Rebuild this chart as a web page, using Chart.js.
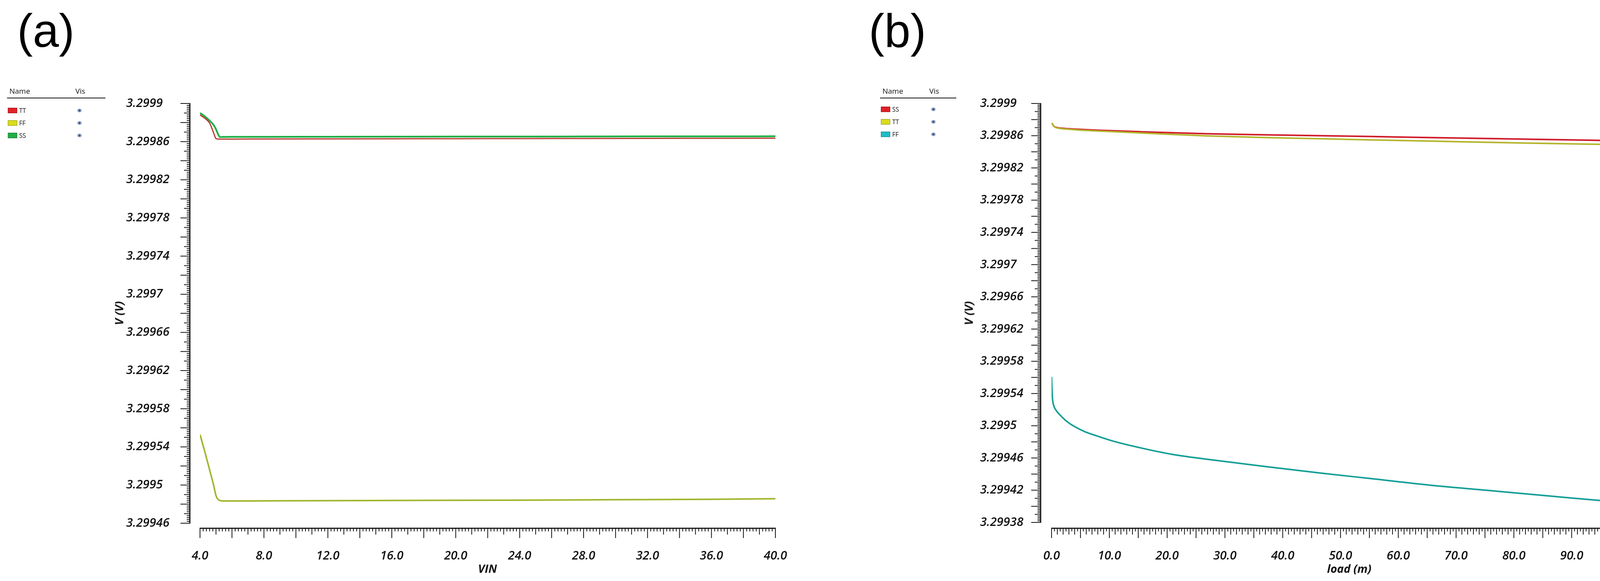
<!DOCTYPE html>
<html lang="en">
<head>
<meta charset="UTF-8">
<title>VIN and load sweeps</title>
<script src="https://cdn.jsdelivr.net/npm/chart.js"></script>
<style>
  * { margin: 0; padding: 0; box-sizing: border-box; }
  body { width: 4257px; height: 1488px; background: #fff; overflow: hidden; position: relative; font-family: "Open Sans", sans-serif; color: #111; }
  .panel { position: absolute; top: 0; height: 1488px; }
  .tag { position: absolute; top: 18px; font-family: "Liberation Sans", Arial, sans-serif; font-size: 120px; line-height: 1; color: #000; }
  .axt { position: absolute; font-size: 29px; font-weight: 700; font-style: italic; white-space: nowrap; transform: translate(-50%, -50%); line-height: 1; }
  .axt.rot { transform: translate(-50%, -50%) rotate(-90deg); }
  .lg { position: absolute; font-size: 19px; line-height: 1; }
  .lg-line { position: absolute; height: 2px; background: #111; }
  .sw { position: absolute; width: 24px; height: 14px; border: 1px solid rgba(0,0,0,0.35); }
  .nm { position: absolute; font-size: 16px; line-height: 1; }
  .eye { position: absolute; width: 13px; height: 10px; border-radius: 50%; background: radial-gradient(circle at 50% 50%, #3d4f7a 0 2px, #8f9fc4 3px, #c9d2e6 6px); }
</style>
</head>
<body>

<div class="tag" style="left:44px">(a)</div>
<div class="tag" style="left:2224px">(b)</div>

<div class="panel" style="left:0;width:2128px"><canvas id="chartA"></canvas></div>
<div class="panel" style="left:2128px;width:2129px"><canvas id="chartB"></canvas></div>

<div class="axt rot" style="left:304px;top:802px">V (V)</div>
<div class="axt" style="left:1248px;top:1455px">VIN</div>
<div class="axt rot" style="left:2479px;top:802px">V (V)</div>
<div class="axt" style="left:3454px;top:1455px">load (m)</div>

<div id="legendA"></div>
<div id="legendB"></div>

<script>
// ---- data ----
const vinTicks = ['4.0', '8.0', '12.0', '16.0', '20.0', '24.0', '28.0', '32.0', '36.0', '40.0'];
const voltTicksA = ['3.29946', '3.2995', '3.29954', '3.29958', '3.29962', '3.29966', '3.2997',
    '3.29974', '3.29978', '3.29982', '3.29986', '3.2999'];

const vinSweep = [4.0, 4.3, 4.6, 4.85, 5.0, 5.1, 5.25, 5.4, 6, 8, 12, 16, 20, 24, 28, 32, 36, 40];
const vinTT = [3.299888, 3.2998845, 3.2998795, 3.2998693, 3.2998632, 3.2998628, 3.2998627, 3.2998627,
    3.2998627, 3.2998628, 3.2998629, 3.299863, 3.2998631, 3.2998632, 3.2998633, 3.2998634, 3.2998635, 3.2998636];
const vinFF = [3.299553, 3.299535, 3.299516, 3.2995, 3.299489, 3.2994855, 3.2994838, 3.2994833,
    3.2994833, 3.2994834, 3.2994836, 3.2994838, 3.299484, 3.2994842, 3.2994845, 3.2994848, 3.2994851, 3.2994857];
const vinSS = [3.29989, 3.2998865, 3.299882, 3.2998775, 3.299873, 3.299869, 3.2998648, 3.2998649,
    3.299865, 3.299865, 3.2998651, 3.2998652, 3.2998653, 3.2998653, 3.2998654, 3.2998655, 3.2998655, 3.2998656];

const loadTicks = ['0.0', '10.0', '20.0', '30.0', '40.0', '50.0', '60.0', '70.0', '80.0', '90.0', '100'];
const voltTicksB = ['3.29938', '3.29942', '3.29946', '3.2995', '3.29954', '3.29958', '3.29962', '3.29966',
    '3.2997', '3.29974', '3.29978', '3.29982', '3.29986', '3.2999'];

const loadSweep = [0, 0.5, 1, 2.3, 4.5, 8, 15.8, 26.8, 40, 55, 66.1, 82.4, 100];
const loadSS = [3.2998758, 3.2998712, 3.29987, 3.299869, 3.299868, 3.2998668, 3.2998648, 3.2998624,
    3.2998608, 3.299859, 3.2998576, 3.2998557, 3.2998535];
const loadTT = [3.2998758, 3.299871, 3.2998695, 3.2998684, 3.2998672, 3.2998658, 3.2998633, 3.2998598,
    3.2998572, 3.2998548, 3.2998532, 3.2998508, 3.2998486];

const loadFFSweep = [0, 0.1, 0.2, 0.4, 0.7, 1, 1.5, 2.3, 3.2, 4.5, 5.8, 8, 10.8, 15.8, 20.8, 26.8, 36.8,
    46.8, 55, 66.1, 75, 82.4, 90, 100];
const loadFF = [3.2995606, 3.299541, 3.299531, 3.2995245, 3.29952, 3.299517, 3.2995131, 3.2995075,
    3.2995024, 3.299497, 3.2994925, 3.299487, 3.2994806, 3.2994719, 3.2994646, 3.2994585, 3.2994495,
    3.2994411, 3.2994346, 3.2994258, 3.2994201, 3.2994152, 3.2994103, 3.299404];

// legend entries
const legendA = [['TT', '#e02127'], ['FF', '#d9dc1c'], ['SS', '#1fae45']];
const legendB = [['SS', '#e02127'], ['TT', '#d9dc1c'], ['FF', '#1fbcc6']];

function pts(xs, ys) { return xs.map((x, i) => ({ x: x, y: ys[i] })); }

// simulator style axes: detached axis lines with major / mid / minor ticks
const spiceAxes = {
    id: 'spiceAxes',
    afterDraw(chart, args, o) {
        const ctx = chart.ctx, area = chart.chartArea;
        const xs = chart.scales.x, ys = chart.scales.y;
        ctx.save();
        ctx.strokeStyle = '#111';
        function seg(x1, y1, x2, y2) { ctx.beginPath(); ctx.moveTo(x1, y1); ctx.lineTo(x2, y2); ctx.stroke(); }

        // y axis
        const ax = area.left - o.yGap;
        const yTop = ys.getPixelForValue(ys.max), yBot = ys.getPixelForValue(ys.min);
        ctx.lineWidth = 3;
        seg(ax, yTop - 1, ax, yBot + 1);
        ctx.lineWidth = 2;
        const nY = Math.round((ys.max - ys.min) / o.yStep);
        for (let k = 0; k <= nY; k++) {
            const py = ys.getPixelForValue(ys.min + k * o.yStep);
            const len = k % o.yLong === 0 ? 24 : (k % o.yMid === 0 ? 15 : 8);
            seg(ax - len, py, ax, py);
        }

        // x axis
        const ay = area.bottom + o.xGap;
        const xL = xs.getPixelForValue(xs.min), xR = xs.getPixelForValue(xs.max);
        ctx.lineWidth = 3;
        seg(xL - 1, ay, xR + 1, ay);
        ctx.lineWidth = 2;
        const nX = Math.round((xs.max - xs.min) / o.xStep);
        for (let k = 0; k <= nX; k++) {
            const px = xs.getPixelForValue(xs.min + k * o.xStep);
            const len = k % o.xLong === 0 ? 25 : (k % o.xMid === 0 ? 16 : 8);
            seg(px, ay, px, ay + len);
        }
        ctx.restore();
    }
};

const tickFont = { family: 'Open Sans', size: 31, style: 'italic', weight: '600' };

function makeChart(id, sets, xr, yr, xLabels, yLabels, pad, yWidth, axesOpts) {
    return new Chart(document.getElementById(id), {
        type: 'line',
        data: { datasets: sets },
        plugins: [spiceAxes],
        options: {
            responsive: true,
            maintainAspectRatio: false,
            animation: false,
            layout: { padding: pad },
            elements: { point: { radius: 0 }, line: { cubicInterpolationMode: 'monotone' } },
            plugins: { legend: { display: false }, tooltip: { enabled: false }, spiceAxes: axesOpts },
            scales: {
                x: {
                    type: 'linear', min: xr[0], max: xr[1],
                    grid: { display: false }, border: { display: false },
                    afterBuildTicks: s => { s.ticks = xLabels.map(t => ({ value: parseFloat(t) })); },
                    afterFit: s => { s.height = 100; },
                    ticks: { padding: axesOpts.labelPad, maxRotation: 0, autoSkip: false, color: '#111', font: tickFont,
                        callback: (v, i) => xLabels[i] }
                },
                y: {
                    type: 'linear', min: yr[0], max: yr[1],
                    grid: { display: false }, border: { display: false },
                    afterBuildTicks: s => { s.ticks = yLabels.map(t => ({ value: parseFloat(t) })); },
                    afterFit: s => { s.width = yWidth; },
                    ticks: { crossAlign: 'far', autoSkip: false, color: '#111', font: tickFont,
                        callback: (v, i) => yLabels[i] }
                }
            }
        }
    });
}

makeChart('chartA', [
    { data: pts(vinSweep, vinTT), borderColor: '#b8342c', borderWidth: 3 },
    { data: pts(vinSweep, vinFF), borderColor: '#a3b52e', borderWidth: 4 },
    { data: pts(vinSweep, vinSS), borderColor: '#1fae45', borderWidth: 4.5 }
], [4, 40], [3.29946, 3.2999], vinTicks, voltTicksA,
    { left: 323, right: 143, top: 265, bottom: 48 }, 189,
    { yGap: 26, xGap: 13, yStep: 0.000002, yLong: 10, yMid: 5, xStep: 0.2, xLong: 10, xMid: 5, labelPad: 58 });

makeChart('chartB', [
    { data: pts(loadSweep, loadTT), borderColor: '#b4b52c', borderWidth: 4 },
    { data: pts(loadSweep, loadSS), borderColor: '#d01c2a', borderWidth: 4 },
    { data: pts(loadFFSweep, loadFF), borderColor: '#159f97', borderWidth: 4 }
], [0, 100], [3.29938, 3.2999], loadTicks, voltTicksB,
    { left: 381, right: 40, top: 265, bottom: 50 }, 183,
    { yGap: 28, xGap: 15, yStep: 0.000002, yLong: 10, yMid: 5, xStep: 0.5, xLong: 10, xMid: 2, labelPad: 60 });

// legend tables (Name / Vis)
function buildLegend(el, items, x0, lineW, visX, rowTop) {
    let html = '<div class="lg" style="left:' + (x0 + 6) + 'px;top:224px">Name</div>' +
        '<div class="lg" style="left:' + (visX - 10) + 'px;top:224px">Vis</div>' +
        '<div class="lg-line" style="left:' + x0 + 'px;top:250px;width:' + lineW + 'px"></div>';
    items.forEach((it, i) => {
        const cy = rowTop + i * 32;
        html += '<div class="sw" style="left:' + (x0 + 2) + 'px;top:' + (cy - 7) + 'px;background:' + it[1] + '"></div>' +
            '<div class="nm" style="left:' + (x0 + 31) + 'px;top:' + (cy - 8) + 'px">' + it[0] + '</div>' +
            '<div class="eye" style="left:' + (visX - 6) + 'px;top:' + (cy - 5) + 'px"></div>';
    });
    el.innerHTML = html;
}
buildLegend(document.getElementById('legendA'), legendA, 18, 252, 203, 283);
buildLegend(document.getElementById('legendB'), legendB, 2253, 195, 2389, 280);
</script>
</body>
</html>
